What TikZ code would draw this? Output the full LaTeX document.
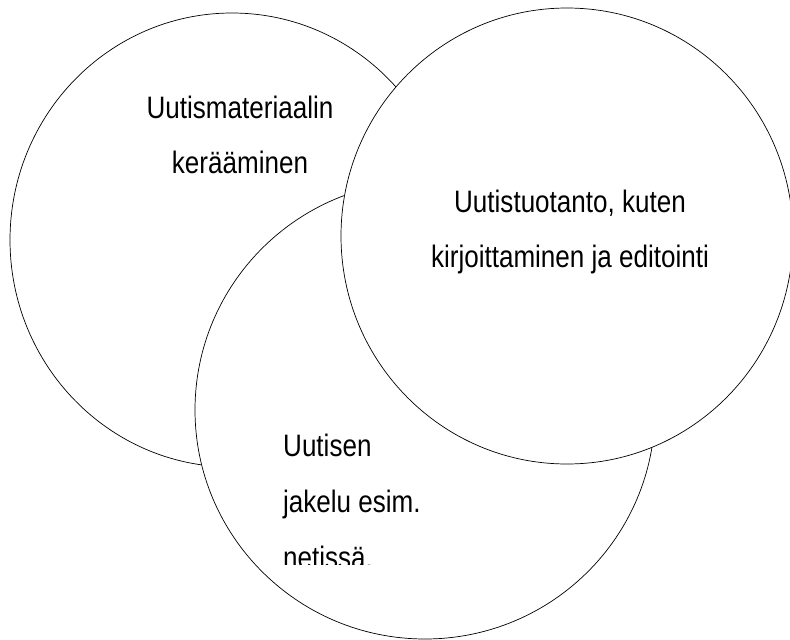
\documentclass[tikz,border=0pt]{standalone}
\usepackage{fontspec}
\newfontfamily\labelfont[FakeStretch=0.84]{Liberation Sans}
\usetikzlibrary{shapes.geometric,positioning}

\begin{document}
\begin{tikzpicture}[
    x=1pt, y=-1pt,
    area/.style={ellipse, draw, fill=white, line width=0.7pt, inner sep=0pt},
    label/.style={inner sep=0pt, font=\labelfont\fontsize{31}{55}\selectfont}
]
    \useasboundingbox (0,0) rectangle (790,640);

    % Circles
    \node[area, minimum width=444pt, minimum height=454pt] (gather) at (232,240) {};
    \node[area, minimum width=460pt, minimum height=458pt] (share) at (425,410) {};
    \node[area, minimum width=452pt, minimum height=456pt] (produce) at (567,236) {};

    % Labels
    \node[label, align=center, anchor=north] (gathertext) at (240,96) {Uutismateriaalin\\ kerääminen};
    \node[label, align=center, anchor=north] (producetext) at (570,190) {Uutistuotanto, kuten\\ kirjoittaminen ja editointi};
    \begin{scope}
        \clip (0,0) rectangle (790,564);
        \node[label, align=left, anchor=north west, font=\labelfont\fontsize{31}{56}\selectfont] (sharetext) at (283,434) {Uutisen\\ jakelu esim.\\ netissä.};
    \end{scope}
\end{tikzpicture}
\end{document}
